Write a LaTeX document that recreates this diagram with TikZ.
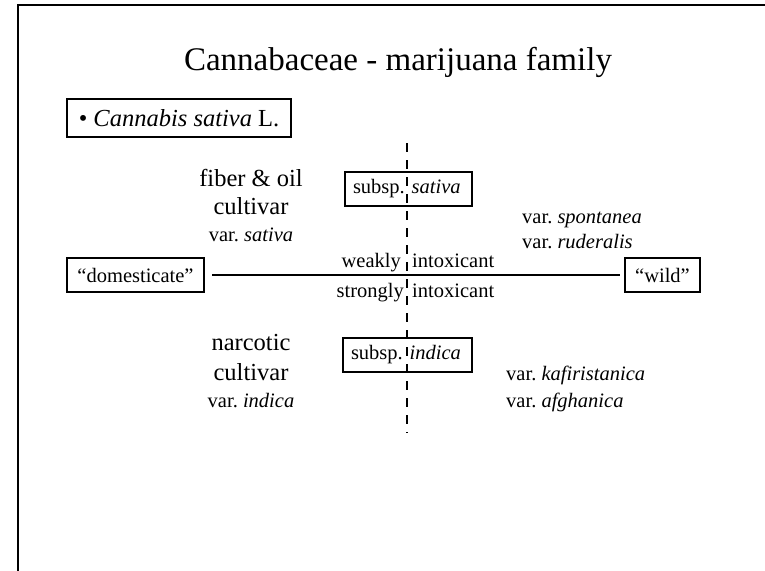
\documentclass[tikz,border=0pt]{standalone}
\usepackage{fontspec}
\setmainfont{Liberation Serif}
\usetikzlibrary{positioning}
\frenchspacing

\tikzset{
	lbl/.style={draw, line width=2pt, inner xsep=8pt, inner ysep=0pt, minimum height=34pt, font=\fontsize{20.5}{24}\selectfont},
	big/.style={anchor=base, inner sep=0pt, font=\fontsize{24.5}{28}\selectfont},
	small/.style={anchor=base, inner sep=0pt, font=\fontsize{20.5}{24}\selectfont},
	axis/.style={line width=2pt},
	split/.style={line width=2.2pt, dash pattern=on 9pt off 8pt},
}

\begin{document}
\begin{tikzpicture}[x=1pt, y=-1pt]
	\useasboundingbox (0,0) rectangle (765,570);
	\draw[line width=2pt] (18,571) -- (18,5) -- (766,5);
	\node[anchor=base, font=\fontsize{33}{38}\selectfont] (title) at (398,70) {Cannabaceae - marijuana family};
	\node[lbl, minimum width=224pt, minimum height=38pt, font=\fontsize{24.5}{28}\selectfont] (sp) at (179,118) {• \textit{Cannabis sativa} L.};
	\node[lbl, text width=111pt, align=left] (ssat) at (408.5,189) {\mbox{subsp. \textit{sativa}}};
	\node[lbl, text width=113pt, align=left] (sind) at (407.5,355) {\mbox{subsp. \textit{indica}}};
	\node[lbl, minimum width=137pt] (dom) at (135.5,275) {“domesticate”};
	\node[lbl, minimum width=75pt] (wild) at (662.5,275) {“wild”};
	\coordinate (top) at (407,143);
	\coordinate (bot) at (407,433);
	\draw[split] (top) -- (bot);
	\draw[axis, shorten <=7pt, shorten >=4pt] (dom) -- (wild);
	\node[small, anchor=base east] (wk) at (401,267) {weakly};
	\node[small, anchor=base west] (wki) at (412,267) {intoxicant};
	\node[small, anchor=base east] (st) at (404,297) {strongly};
	\node[small, anchor=base west] (sti) at (412,297) {intoxicant};
	\node[big] (fib) at (251,186) {fiber \& oil};
	\node[big] (cul1) at ([yshift=-28pt]fib.base) {cultivar};
	\node[small] (vsat) at ([yshift=-27pt]cul1.base) {var. \textit{sativa}};
	\node[big] (nar) at (251,350) {narcotic};
	\node[big] (cul2) at ([yshift=-30pt]nar.base) {cultivar};
	\node[small] (vind) at ([yshift=-27pt]cul2.base) {var. \textit{indica}};
	\node[small, anchor=base west] (vspo) at (522,223) {var. \textit{spontanea}};
	\node[small, anchor=base west] (vrud) at ([yshift=-25pt]vspo.base west) {var. \textit{ruderalis}};
	\node[small, anchor=base west] (vkaf) at (506,380) {var. \textit{kafiristanica}};
	\node[small, anchor=base west] (vafg) at ([yshift=-27pt]vkaf.base west) {var. \textit{afghanica}};
\end{tikzpicture}
\end{document}
